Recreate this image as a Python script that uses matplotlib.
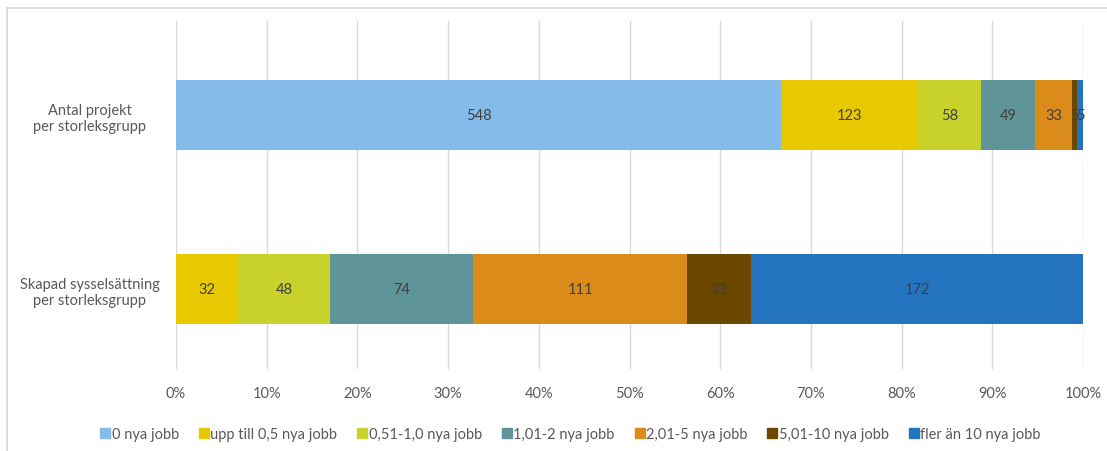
import numpy as np
import matplotlib.pyplot as plt
from matplotlib.lines import Line2D

categories = ["Antal projekt\nper storleksgrupp", "Skapad sysselsättning\nper storleksgrupp"]
series = ["0 nya jobb", "upp till 0,5 nya jobb", "0,51-1,0 nya jobb", "1,01-2 nya jobb",
          "2,01-5 nya jobb", "5,01-10 nya jobb", "fler än 10 nya jobb"]
projekt = [548, 123, 58, 49, 33, 5, 5]
syssel = [0, 32, 48, 74, 111, 33, 172]
colors = ["#85BBE8", "#E8C900", "#C9D22A", "#5F9499", "#DB8B1A", "#6B4700", "#2473BF"]

plt.rcParams['font.family'] = ['Lato', 'DejaVu Sans']
txt = "#595959"

fig = plt.figure(figsize=(11.07, 4.52), dpi=100)
ax = fig.add_axes([176/1107, 1 - 370/452, (1083 - 176)/1107, 348/452])

data = np.array([projekt, syssel], dtype=float)
pct = data / data.sum(axis=1, keepdims=True) * 100
left = np.zeros(2)
for j, name in enumerate(series):
    ax.barh([0, 1], pct[:, j], left=left, height=0.4, color=colors[j], label=name, zorder=3)
    for i in range(2):
        if data[i, j] > 0:
            ax.text(left[i] + pct[i, j] / 2, i, f"{int(data[i, j])}", ha='center', va='center',
                    fontsize=10.5, color="#404040", zorder=4)
    left += pct[:, j]

ax.set_xlim(0, 100)
ax.set_ylim(1 + 80/174, -94/174)
ax.set_xticks(np.arange(0, 101, 10))
ax.set_xticklabels([f"{v}%" for v in range(0, 101, 10)])
ax.set_yticks([0, 1])
ax.set_yticklabels(categories, ha='center')
ax.tick_params(axis='y', length=0, pad=62, labelsize=10.5, labelcolor=txt)
ax.tick_params(axis='x', length=0, pad=12, labelsize=10.5, labelcolor=txt)
ax.grid(axis='x', color="#D9D9D9", lw=1, zorder=0)
for s in ax.spines.values():
    s.set_visible(False)

handles = [Line2D([], [], marker='s', ls='', color=c, markersize=7) for c in colors]
fig.legend(handles, series, loc='center', bbox_to_anchor=(0.515, 1 - 435/452), ncol=7,
           frameon=False, fontsize=10.5, labelcolor=txt, handletextpad=0.05, columnspacing=1.3,
           handlelength=0.8)

fig.add_artist(Line2D([7/1107, 1], [1 - 9/452, 1 - 9/452], color="#D9D9D9", lw=1.2))
fig.add_artist(Line2D([7/1107, 7/1107], [0, 1 - 9/452], color="#D9D9D9", lw=1.2))

fig.savefig("out.png", dpi=100)
